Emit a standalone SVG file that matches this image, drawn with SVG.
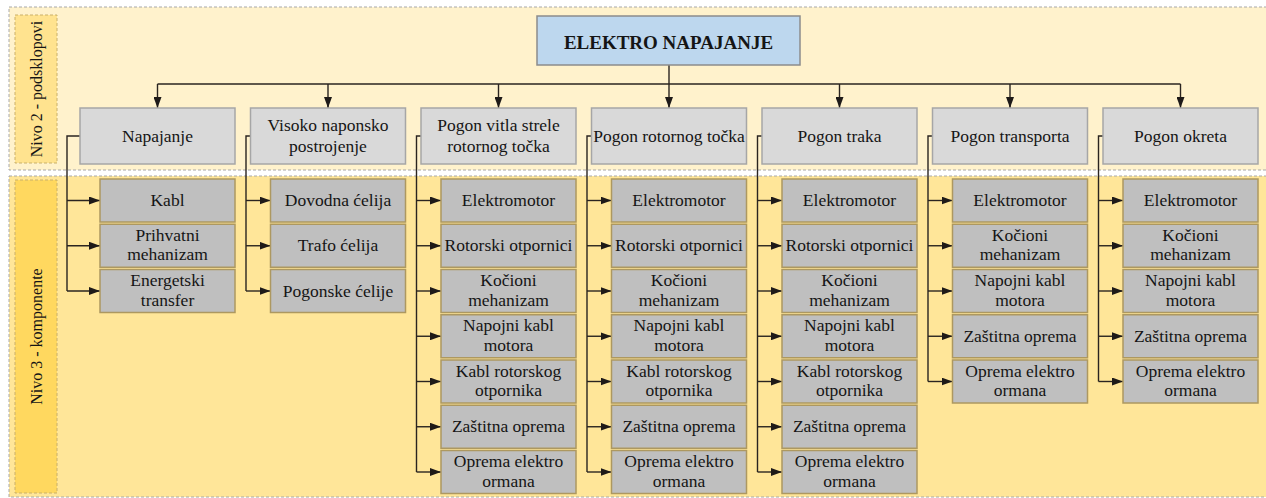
<svg xmlns="http://www.w3.org/2000/svg" width="1266" height="498" viewBox="0 0 1266 498" font-family="'Liberation Serif', 'Times New Roman', serif">
  <defs>
    <marker id="ah" viewBox="0 0 11 8" refX="11" refY="4" markerWidth="11" markerHeight="8" markerUnits="userSpaceOnUse" orient="auto">
      <path d="M0,0 L11,4 L0,8 z" fill="#1e1a18"/>
    </marker>
    <style>
      text { font-family: 'Liberation Serif', 'Times New Roman', serif; fill: #151515; }
      .band-top { fill: #FFF2CC; stroke: #A8A8A8; stroke-width: 1; stroke-dasharray: 3 2; }
      .band-bot { fill: #FFE699; stroke: #A8A8A8; stroke-width: 1; stroke-dasharray: 3 2; }
      .lbl-top { fill: #FFE38F; stroke: #C9B06A; stroke-width: 1; stroke-dasharray: 3 2; }
      .lbl-bot { fill: #FFD85F; stroke: #C9B06A; stroke-width: 1; stroke-dasharray: 3 2; }
      .lbl-txt { font-family: 'Liberation Serif', serif; font-size: 16px; text-anchor: middle; }
      .root rect { fill: #BDD7EE; stroke: #8C8C8C; stroke-width: 1.5; }
      .root text { font-family: 'Liberation Serif', serif; font-size: 19px; font-weight: bold; text-anchor: middle; }
      .l2 rect { fill: #D9D9D9; stroke: #A6A6A6; stroke-width: 1.5; }
      .l3 rect { fill: #BFBFBF; stroke: #AD9860; stroke-width: 1.5; }
      .l2 text, .l3 text { font-family: 'Liberation Serif', serif; font-size: 17.5px; text-anchor: middle; }
      .conn path { fill: none; stroke: #2a2420; stroke-width: 1.4; }
      .conn .arr { marker-end: url(#ah); }
    </style>
  </defs>

  <!-- level bands -->
  <g id="bands">
    <rect class="band-top" x="9" y="7" width="1262" height="163"/>
    <rect class="band-bot" x="9" y="176" width="1262" height="321"/>
    <rect class="lbl-top" x="15" y="15" width="42" height="148"/>
    <rect class="lbl-bot" x="15" y="180" width="42" height="313"/>
    <text class="lbl-txt" transform="translate(41.5,89) rotate(-90)">Nivo 2 - podsklopovi</text>
    <text class="lbl-txt" transform="translate(41.5,336.5) rotate(-90)">Nivo 3 - komponente</text>
  </g>

  <!-- connectors -->
  <g id="connectors" class="conn">
    <path d="M669,65 V84"/>
    <path d="M157.5,84 H1180.5"/>
    <path class="arr" d="M157.5,84 V108"/>
    <path class="arr" d="M328,84 V108"/>
    <path class="arr" d="M498.5,84 V108"/>
    <path class="arr" d="M669,84 V108"/>
    <path class="arr" d="M839.5,84 V108"/>
    <path class="arr" d="M1010,84 V108"/>
    <path class="arr" d="M1180.5,84 V108"/>

    <!-- column trunks -->
    <path d="M80,136 H67 V291"/>
    <path d="M250.5,136 H246 V291"/>
    <path d="M421,136 H416.5 V472"/>
    <path d="M591.5,136 H587 V472"/>
    <path d="M762,136 H757.5 V472"/>
    <path d="M932.5,136 H928 V381.5"/>
    <path d="M1103,136 H1098.5 V381.5"/>

    <!-- Napajanje -->
    <path class="arr" d="M67,200.5 H100"/>
    <path class="arr" d="M67,245.75 H100"/>
    <path class="arr" d="M67,291 H100"/>
    <!-- Visoko naponsko postrojenje -->
    <path class="arr" d="M246,200.5 H270.5"/>
    <path class="arr" d="M246,245.75 H270.5"/>
    <path class="arr" d="M246,291 H270.5"/>
    <!-- Pogon vitla strele -->
    <path class="arr" d="M416.5,200.5 H441"/>
    <path class="arr" d="M416.5,245.75 H441"/>
    <path class="arr" d="M416.5,291 H441"/>
    <path class="arr" d="M416.5,336.25 H441"/>
    <path class="arr" d="M416.5,381.5 H441"/>
    <path class="arr" d="M416.5,426.75 H441"/>
    <path class="arr" d="M416.5,472 H441"/>
    <!-- Pogon rotornog točka -->
    <path class="arr" d="M587,200.5 H611.5"/>
    <path class="arr" d="M587,245.75 H611.5"/>
    <path class="arr" d="M587,291 H611.5"/>
    <path class="arr" d="M587,336.25 H611.5"/>
    <path class="arr" d="M587,381.5 H611.5"/>
    <path class="arr" d="M587,426.75 H611.5"/>
    <path class="arr" d="M587,472 H611.5"/>
    <!-- Pogon traka -->
    <path class="arr" d="M757.5,200.5 H782"/>
    <path class="arr" d="M757.5,245.75 H782"/>
    <path class="arr" d="M757.5,291 H782"/>
    <path class="arr" d="M757.5,336.25 H782"/>
    <path class="arr" d="M757.5,381.5 H782"/>
    <path class="arr" d="M757.5,426.75 H782"/>
    <path class="arr" d="M757.5,472 H782"/>
    <!-- Pogon transporta -->
    <path class="arr" d="M928,200.5 H952.5"/>
    <path class="arr" d="M928,245.75 H952.5"/>
    <path class="arr" d="M928,291 H952.5"/>
    <path class="arr" d="M928,336.25 H952.5"/>
    <path class="arr" d="M928,381.5 H952.5"/>
    <!-- Pogon okreta -->
    <path class="arr" d="M1098.5,200.5 H1123"/>
    <path class="arr" d="M1098.5,245.75 H1123"/>
    <path class="arr" d="M1098.5,291 H1123"/>
    <path class="arr" d="M1098.5,336.25 H1123"/>
    <path class="arr" d="M1098.5,381.5 H1123"/>
  </g>

  <!-- root -->
  <g id="root" class="root">
    <rect x="537" y="16" width="263" height="49"/>
    <text x="668.5" y="48.5">ELEKTRO NAPAJANJE</text>
  </g>

  <!-- level 2 subassemblies -->
  <g id="l2-napajanje" class="l2"><rect x="80" y="108" width="155" height="56"/><text x="157.5" y="141.5">Napajanje</text></g>
  <g id="l2-visoko" class="l2"><rect x="250.5" y="108" width="155" height="56"/><text x="328" y="131">Visoko naponsko</text><text x="328" y="151.5">postrojenje</text></g>
  <g id="l2-vitlo" class="l2"><rect x="421" y="108" width="155" height="56"/><text x="498.5" y="131">Pogon vitla strele</text><text x="498.5" y="151.5">rotornog točka</text></g>
  <g id="l2-rotor" class="l2"><rect x="591.5" y="108" width="155" height="56"/><text x="669" y="141.5">Pogon rotornog točka</text></g>
  <g id="l2-traka" class="l2"><rect x="762" y="108" width="155" height="56"/><text x="839.5" y="141.5">Pogon traka</text></g>
  <g id="l2-transport" class="l2"><rect x="932.5" y="108" width="155" height="56"/><text x="1010" y="141.5">Pogon transporta</text></g>
  <g id="l2-okret" class="l2"><rect x="1103" y="108" width="155" height="56"/><text x="1180.5" y="141.5">Pogon okreta</text></g>

  <!-- level 3: Napajanje -->
  <g id="c1-1" class="l3"><rect x="100" y="179" width="135" height="43"/><text x="167.5" y="206">Kabl</text></g>
  <g id="c1-2" class="l3"><rect x="100" y="224.25" width="135" height="43"/><text x="167.5" y="240.75">Prihvatni</text><text x="167.5" y="260.25">mehanizam</text></g>
  <g id="c1-3" class="l3"><rect x="100" y="269.5" width="135" height="43"/><text x="167.5" y="286">Energetski</text><text x="167.5" y="305.5">transfer</text></g>

  <!-- level 3: Visoko naponsko postrojenje -->
  <g id="c2-1" class="l3"><rect x="270.5" y="179" width="135" height="43"/><text x="338" y="206">Dovodna ćelija</text></g>
  <g id="c2-2" class="l3"><rect x="270.5" y="224.25" width="135" height="43"/><text x="338" y="251.25">Trafo ćelija</text></g>
  <g id="c2-3" class="l3"><rect x="270.5" y="269.5" width="135" height="43"/><text x="338" y="296.5">Pogonske ćelije</text></g>

  <!-- level 3: Pogon vitla strele rotornog točka -->
  <g id="c3-1" class="l3"><rect x="441" y="179" width="135" height="43"/><text x="508.5" y="206">Elektromotor</text></g>
  <g id="c3-2" class="l3"><rect x="441" y="224.25" width="135" height="43"/><text x="508.5" y="251.25">Rotorski otpornici</text></g>
  <g id="c3-3" class="l3"><rect x="441" y="269.5" width="135" height="43"/><text x="508.5" y="286">Kočioni</text><text x="508.5" y="305.5">mehanizam</text></g>
  <g id="c3-4" class="l3"><rect x="441" y="314.75" width="135" height="43"/><text x="508.5" y="331.25">Napojni kabl</text><text x="508.5" y="350.75">motora</text></g>
  <g id="c3-5" class="l3"><rect x="441" y="360" width="135" height="43"/><text x="508.5" y="376.5">Kabl rotorskog</text><text x="508.5" y="396">otpornika</text></g>
  <g id="c3-6" class="l3"><rect x="441" y="405.25" width="135" height="43"/><text x="508.5" y="432.25">Zaštitna oprema</text></g>
  <g id="c3-7" class="l3"><rect x="441" y="450.5" width="135" height="43"/><text x="508.5" y="467">Oprema elektro</text><text x="508.5" y="486.5">ormana</text></g>

  <!-- level 3: Pogon rotornog točka -->
  <g id="c4-1" class="l3"><rect x="611.5" y="179" width="135" height="43"/><text x="679" y="206">Elektromotor</text></g>
  <g id="c4-2" class="l3"><rect x="611.5" y="224.25" width="135" height="43"/><text x="679" y="251.25">Rotorski otpornici</text></g>
  <g id="c4-3" class="l3"><rect x="611.5" y="269.5" width="135" height="43"/><text x="679" y="286">Kočioni</text><text x="679" y="305.5">mehanizam</text></g>
  <g id="c4-4" class="l3"><rect x="611.5" y="314.75" width="135" height="43"/><text x="679" y="331.25">Napojni kabl</text><text x="679" y="350.75">motora</text></g>
  <g id="c4-5" class="l3"><rect x="611.5" y="360" width="135" height="43"/><text x="679" y="376.5">Kabl rotorskog</text><text x="679" y="396">otpornika</text></g>
  <g id="c4-6" class="l3"><rect x="611.5" y="405.25" width="135" height="43"/><text x="679" y="432.25">Zaštitna oprema</text></g>
  <g id="c4-7" class="l3"><rect x="611.5" y="450.5" width="135" height="43"/><text x="679" y="467">Oprema elektro</text><text x="679" y="486.5">ormana</text></g>

  <!-- level 3: Pogon traka -->
  <g id="c5-1" class="l3"><rect x="782" y="179" width="135" height="43"/><text x="849.5" y="206">Elektromotor</text></g>
  <g id="c5-2" class="l3"><rect x="782" y="224.25" width="135" height="43"/><text x="849.5" y="251.25">Rotorski otpornici</text></g>
  <g id="c5-3" class="l3"><rect x="782" y="269.5" width="135" height="43"/><text x="849.5" y="286">Kočioni</text><text x="849.5" y="305.5">mehanizam</text></g>
  <g id="c5-4" class="l3"><rect x="782" y="314.75" width="135" height="43"/><text x="849.5" y="331.25">Napojni kabl</text><text x="849.5" y="350.75">motora</text></g>
  <g id="c5-5" class="l3"><rect x="782" y="360" width="135" height="43"/><text x="849.5" y="376.5">Kabl rotorskog</text><text x="849.5" y="396">otpornika</text></g>
  <g id="c5-6" class="l3"><rect x="782" y="405.25" width="135" height="43"/><text x="849.5" y="432.25">Zaštitna oprema</text></g>
  <g id="c5-7" class="l3"><rect x="782" y="450.5" width="135" height="43"/><text x="849.5" y="467">Oprema elektro</text><text x="849.5" y="486.5">ormana</text></g>

  <!-- level 3: Pogon transporta -->
  <g id="c6-1" class="l3"><rect x="952.5" y="179" width="135" height="43"/><text x="1020" y="206">Elektromotor</text></g>
  <g id="c6-2" class="l3"><rect x="952.5" y="224.25" width="135" height="43"/><text x="1020" y="240.75">Kočioni</text><text x="1020" y="260.25">mehanizam</text></g>
  <g id="c6-3" class="l3"><rect x="952.5" y="269.5" width="135" height="43"/><text x="1020" y="286">Napojni kabl</text><text x="1020" y="305.5">motora</text></g>
  <g id="c6-4" class="l3"><rect x="952.5" y="314.75" width="135" height="43"/><text x="1020" y="341.75">Zaštitna oprema</text></g>
  <g id="c6-5" class="l3"><rect x="952.5" y="360" width="135" height="43"/><text x="1020" y="376.5">Oprema elektro</text><text x="1020" y="396">ormana</text></g>

  <!-- level 3: Pogon okreta -->
  <g id="c7-1" class="l3"><rect x="1123" y="179" width="135" height="43"/><text x="1190.5" y="206">Elektromotor</text></g>
  <g id="c7-2" class="l3"><rect x="1123" y="224.25" width="135" height="43"/><text x="1190.5" y="240.75">Kočioni</text><text x="1190.5" y="260.25">mehanizam</text></g>
  <g id="c7-3" class="l3"><rect x="1123" y="269.5" width="135" height="43"/><text x="1190.5" y="286">Napojni kabl</text><text x="1190.5" y="305.5">motora</text></g>
  <g id="c7-4" class="l3"><rect x="1123" y="314.75" width="135" height="43"/><text x="1190.5" y="341.75">Zaštitna oprema</text></g>
  <g id="c7-5" class="l3"><rect x="1123" y="360" width="135" height="43"/><text x="1190.5" y="376.5">Oprema elektro</text><text x="1190.5" y="396">ormana</text></g>
</svg>
